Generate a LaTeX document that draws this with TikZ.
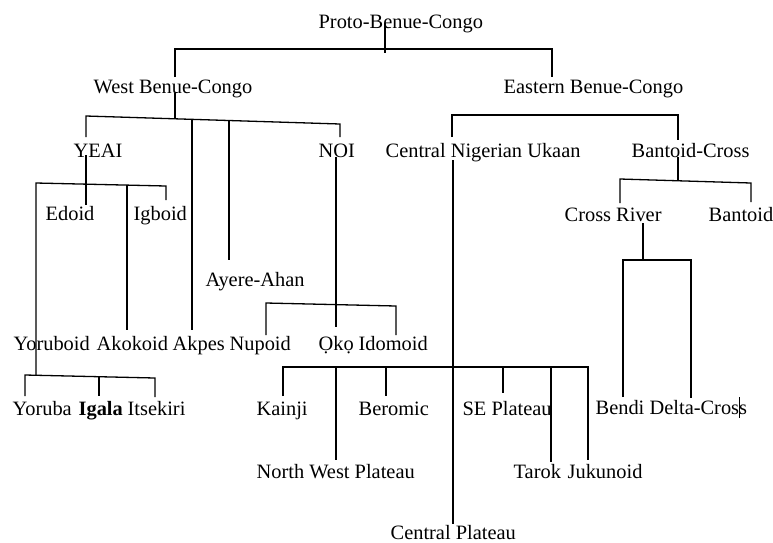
\documentclass[tikz,border=0pt]{standalone}
\usepackage{fontspec}
\setmainfont{Liberation Serif}
\begin{document}
\begin{tikzpicture}[x=1pt,y=-1pt,line width=1.3pt,
        lang/.style={anchor=base west,inner sep=0pt,font=\fontsize{20.4}{24}\selectfont}]
    \useasboundingbox (0,0) rectangle (773,542);
    \node[lang] (pbc) at (318,28) {Proto-Benue-Congo};
    \node[lang] (wbc) at (93,93) {West Benue-Congo};
    \node[lang] (ebc) at (503,93) {Eastern Benue-Congo};
    \node[lang] (yeai) at (73,157) {YEAI};
    \node[lang] (noi) at (318,157) {NOI};
    \node[lang] (cnu) at (385,157) {Central Nigerian Ukaan};
    \node[lang] (bc) at (631,157) {Bantoid-Cross};
    \node[lang] (edoid) at (45,220) {Edoid};
    \node[lang] (igboid) at (133,220) {Igboid};
    \node[lang] (cr) at (564,221) {Cross River};
    \node[lang] (bantoid) at (708,221) {Bantoid};
    \node[lang] (ayere) at (205,286) {Ayere-Ahan};
    \node[lang] (yoruboid) at (13,350) {Yoruboid};
    \node[lang] (akokoid) at (96,350) {Akokoid};
    \node[lang] (akpes) at (172,350) {Akpes};
    \node[lang] (nupoid) at (229,350) {Nupoid};
    \node[lang] (oko) at (318,350) {Ọkọ};
    \node[lang] (idomoid) at (358,350) {Idomoid};
    \node[lang] (yoruba) at (12,415) {Yoruba};
    \node[lang] (igala) at (78,415) {\textbf{Igala}};
    \node[lang] (itsekiri) at (127,415) {Itsekiri};
    \node[lang] (kainji) at (256,415) {Kainji};
    \node[lang] (beromic) at (358,415) {Beromic};
    \node[lang] (sep) at (462,415) {SE Plateau};
    \node[lang] (bendi) at (595,414) {Bendi};
    \node[lang] (deltacross) at (649,414) {Delta-Cross};
    \node[lang] (nwp) at (256,478) {North West Plateau};
    \node[lang] (tarok) at (513,478) {Tarok};
    \node[lang] (jukunoid) at (567,478) {Jukunoid};
    \node[lang] (cp) at (390,539) {Central Plateau};

    \coordinate (pbc-a) at (385,23);
    \coordinate (pbc-b) at (385,53);
    \coordinate (top-l) at (175,49);
    \coordinate (top-r) at (552,49);
    \coordinate (wbc-t) at (175,77);
    \coordinate (ebc-t) at (552,77);
    \draw (pbc-a) -- (pbc-b);
    \draw (wbc-t) -- (top-l) -- (top-r) -- (ebc-t);

    \coordinate (wbc-a) at (175,93);
    \coordinate (wbc-b) at (175,119);
    \coordinate (wb-l) at (86,116);
    \coordinate (wb-r) at (340,124);
    \coordinate (wb-3) at (192,119.3);
    \coordinate (wb-4) at (229,120.5);
    \coordinate (yeai-t) at (86,137);
    \coordinate (noi-t) at (340,137);
    \coordinate (akpes-t) at (192,330);
    \coordinate (ayere-t) at (229,260);
    \draw (wbc-a) -- (wbc-b);
    \draw (yeai-t) -- (wb-l) -- (wb-r) -- (noi-t);
    \draw (wb-3) -- (akpes-t);
    \draw (wb-4) -- (ayere-t);

    \coordinate (yeai-a) at (86,155);
    \coordinate (edoid-t) at (86,205);
    \coordinate (yb-l) at (36,183);
    \coordinate (yb-r) at (166,186);
    \coordinate (yb-3) at (127,185.1);
    \coordinate (igboid-t) at (166,200);
    \coordinate (akokoid-t) at (127,330);
    \coordinate (yr-j) at (36,375.3);
    \draw (yeai-a) -- (edoid-t);
    \draw (yr-j) -- (yb-l) -- (yb-r) -- (igboid-t);
    \draw (yb-3) -- (akokoid-t);

    \coordinate (yr-l) at (25,375);
    \coordinate (yr-r) at (155,378);
    \coordinate (yr-2) at (99,376.7);
    \coordinate (yoruba-t) at (25,396);
    \coordinate (igala-t) at (99,396);
    \coordinate (itsekiri-t) at (155,397);
    \draw (yoruba-t) -- (yr-l) -- (yr-r) -- (itsekiri-t);
    \draw (yr-2) -- (igala-t);

    \coordinate (noi-a) at (336,157);
    \coordinate (oko-t) at (336,327);
    \coordinate (nb-l) at (266,303);
    \coordinate (nb-r) at (396,306);
    \coordinate (nupoid-t) at (266,335);
    \coordinate (idomoid-t) at (396,335);
    \draw (noi-a) -- (oko-t);
    \draw (nupoid-t) -- (nb-l) -- (nb-r) -- (idomoid-t);

    \coordinate (eb-l) at (452,115);
    \coordinate (eb-r) at (678,115);
    \coordinate (cnu-t) at (452,137);
    \coordinate (bc-t) at (678,140);
    \draw (cnu-t) -- (eb-l) -- (eb-r) -- (bc-t);

    \coordinate (cnu-a) at (453,160);
    \coordinate (cp-t) at (453,524);
    \coordinate (pb-l) at (283,367);
    \coordinate (pb-2) at (336,367);
    \coordinate (pb-3) at (386,367);
    \coordinate (pb-5) at (503,367);
    \coordinate (pb-6) at (551,367);
    \coordinate (pb-r) at (588,367);
    \coordinate (kainji-t) at (283,396);
    \coordinate (nwp-t) at (336,460);
    \coordinate (beromic-t) at (386,396);
    \coordinate (sep-t) at (503,393);
    \coordinate (tarok-t) at (551,462);
    \coordinate (jukunoid-t) at (588,460);
    \draw (cnu-a) -- (cp-t);
    \draw (kainji-t) -- (pb-l) -- (pb-r) -- (jukunoid-t);
    \draw (pb-2) -- (nwp-t);
    \draw (pb-3) -- (beromic-t);
    \draw (pb-5) -- (sep-t);
    \draw (pb-6) -- (tarok-t);

    \coordinate (bc-a) at (678,157);
    \coordinate (bc-b) at (678,181);
    \coordinate (bb-l) at (620,179);
    \coordinate (bb-r) at (751,183);
    \coordinate (cr-t) at (620,203);
    \coordinate (bantoid-t) at (751,202);
    \draw (bc-a) -- (bc-b);
    \draw (cr-t) -- (bb-l) -- (bb-r) -- (bantoid-t);

    \coordinate (cr-a) at (643,223);
    \coordinate (cr-b) at (643,260);
    \coordinate (cb-l) at (623,260);
    \coordinate (cb-r) at (691,260);
    \coordinate (bendi-t) at (623,397);
    \coordinate (deltacross-t) at (691,398);
    \draw (cr-a) -- (cr-b);
    \draw (bendi-t) -- (cb-l) -- (cb-r) -- (deltacross-t);

    \coordinate (mark-a) at (739,397);
    \coordinate (mark-b) at (739,418);
    \draw[line width=1pt] (mark-a) -- (mark-b);
\end{tikzpicture}
\end{document}
